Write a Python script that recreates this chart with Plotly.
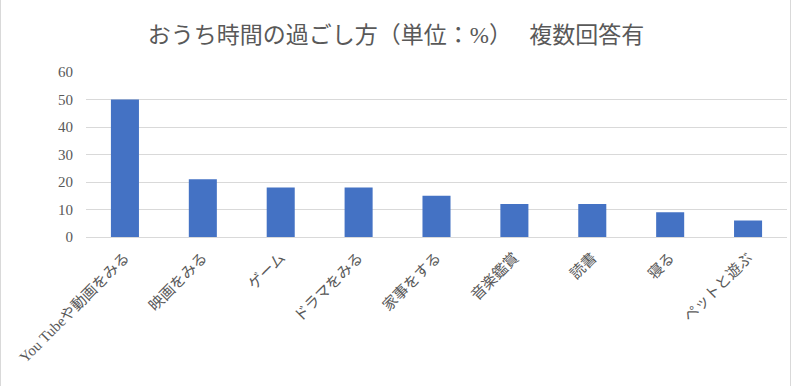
import plotly.graph_objects as go

categories = ["You Tubeや動画をみる", "映画をみる", "ゲーム", "ドラマをみる", "家事をする",
              "音楽鑑賞", "読書", "寝る", "ペットと遊ぶ"]
values = [50, 21, 18, 18, 15, 12, 12, 9, 6]
y_ticks = [0, 10, 20, 30, 40, 50, 60]
title_text = "おうち時間の過ごし方（単位：%）　 複数回答有"

W, H = 792, 386
L, R, T, B = 86, 5, 72, 149
pw = W - L - R

fig = go.Figure(go.Bar(x=categories, y=values, marker_color="#4472C4",
                       marker_line_width=0))

font_family = "Liberation Serif, Noto Sans CJK JP, serif"

def px_to_paper(px):
    return (px - L) / pw

fig.update_layout(
    width=W, height=H,
    margin=dict(l=L, r=R, t=T, b=B, autoexpand=False),
    paper_bgcolor="white", plot_bgcolor="white",
    bargap=0.64,
    showlegend=False,
    title=dict(text=title_text, x=0.5, xref="container", xanchor="center",
               y=1 - 35 / H, yanchor="middle", yref="container",
               font=dict(family=font_family, size=23, color="#595959")),
    font=dict(family=font_family, color="#595959"),
    xaxis=dict(tickangle=-45, tickfont=dict(size=15, color="#595959"),
               showgrid=False, showline=False, ticks="", zeroline=False,
               automargin=False, ticklabelstandoff=8),
    yaxis=dict(range=[0, 60], tickvals=y_ticks, showgrid=True,
               gridcolor="#d9d9d9", gridwidth=1, zeroline=True,
               zerolinecolor="#d9d9d9", zerolinewidth=1, ticks="",
               tickfont=dict(size=15, color="#595959"), ticklabelstandoff=12,
               automargin=False),
    shapes=[
        dict(type="line", xref="paper", yref="paper",
             x0=px_to_paper(0.5), x1=px_to_paper(0.5),
             y0=-B / (H - T - B), y1=1 + T / (H - T - B),
             line=dict(color="#d9d9d9", width=1)),
        dict(type="line", xref="paper", yref="paper",
             x0=px_to_paper(790.5), x1=px_to_paper(790.5),
             y0=-B / (H - T - B), y1=1 + T / (H - T - B),
             line=dict(color="#d9d9d9", width=1)),
    ],
)

fig.write_html("out.html", config={"displayModeBar": False},
               post_script="document.body.style.margin='0';document.body.style.overflow='hidden';")
